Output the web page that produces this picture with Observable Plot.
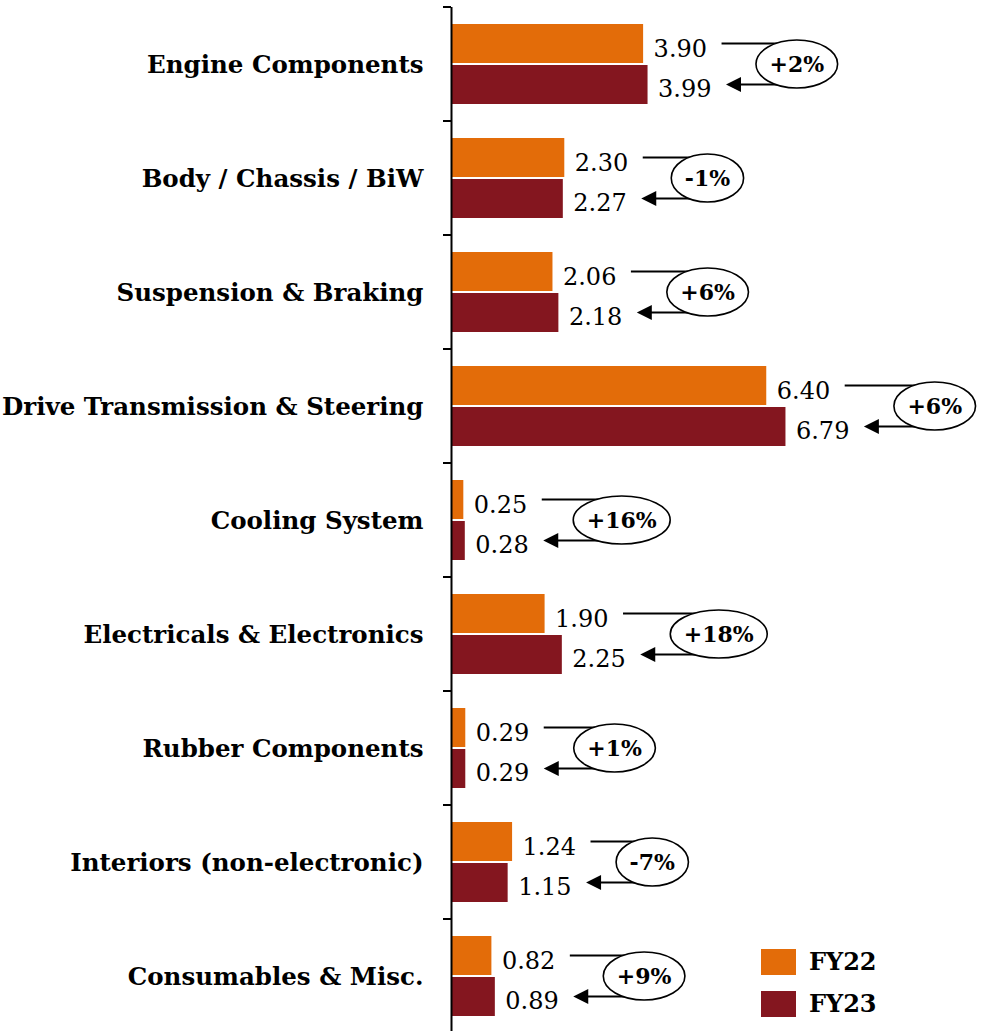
<!DOCTYPE html>
<html>
<head>
<meta charset="utf-8">
<script src="https://cdn.jsdelivr.net/npm/d3@7"></script>
<script src="https://cdn.jsdelivr.net/npm/@observablehq/plot@0.6"></script>
<style>
  html, body { margin: 0; padding: 0; background: #fff; overflow: hidden; }
  #wrap { position: relative; width: 982px; height: 1031px; }
  #wrap svg { display: block; }
  .legend { position: absolute; left: 761px; font-family: 'DejaVu Serif', serif; font-weight: bold; font-size: 24px; color: #000; }
  .legend .item { position: absolute; left: 0; display: flex; align-items: center; white-space: nowrap; }
  .legend .sw { width: 35px; height: 26px; margin-right: 13px; }
</style>
</head>
<body>
<div id="wrap"></div>
<script>
// ---- data ----
const categories = [
  "Engine Components",
  "Body / Chassis / BiW",
  "Suspension & Braking",
  "Drive Transmission & Steering",
  "Cooling System",
  "Electricals & Electronics",
  "Rubber Components",
  "Interiors (non-electronic)",
  "Consumables & Misc."
];
const fy22 = [3.90, 2.30, 2.06, 6.40, 0.25, 1.90, 0.29, 1.24, 0.82];
const fy23 = [3.99, 2.27, 2.18, 6.79, 0.28, 2.25, 0.29, 1.15, 0.89];
const growth = ["+2%", "-1%", "+6%", "+6%", "+16%", "+18%", "+1%", "-7%", "+9%"];
const seriesNames = ["FY22", "FY23"];
const seriesColors = ["#E36C09", "#84161F"];

const rows = categories.map((c, i) => ({category: c, fy22: fy22[i], fy23: fy23[i], growth: growth[i]}));

const FONT = "'DejaVu Serif', serif";
const valueSize = 24, growthSize = 22;
const canvas = document.createElement("canvas").getContext("2d");
function measure(text, size, weight) {
  canvas.font = `${weight || "normal"} ${size}px 'DejaVu Serif'`;
  return canvas.measureText(text).width;
}

const labelDx = 10;

function bandwidthOf(scale) {
  return scale && typeof scale.bandwidth === "function" ? scale.bandwidth() : 0;
}

function annotations(index, scales, values) {
  const g = d3.create("svg:g").attr("aria-label", "growth annotations");
  const bw = bandwidthOf(scales.y);
  for (const i of index) {
    const d = rows[i];
    const yc = values.y[i] + bw / 2;
    const y22 = yc - 20.5, y23 = yc + 20.5;
    const x22 = scales.x(d.fy22), x23 = scales.x(d.fy23);
    const lineStart = x22 + labelDx + measure(d.fy22.toFixed(2), valueSize) + 15;
    const tip = x23 + labelDx + measure(d.fy23.toFixed(2), valueSize) + 15;
    const tw = measure(d.growth, growthSize, "bold");
    const rx = tw / 2 + 13.5, ry = 24;
    const cx = tip + 30 + rx;
    g.append("line").attr("x1", lineStart).attr("x2", cx).attr("y1", y22).attr("y2", y22)
      .attr("stroke", "#000").attr("stroke-width", 2);
    g.append("line").attr("x1", tip + 12).attr("x2", cx).attr("y1", y23).attr("y2", y23)
      .attr("stroke", "#000").attr("stroke-width", 2);
    g.append("path").attr("d", `M${tip},${y23}L${tip + 15},${y23 - 7.5}L${tip + 15},${y23 + 7.5}Z`)
      .attr("fill", "#000");
    g.append("ellipse").attr("cx", cx).attr("cy", yc).attr("rx", rx).attr("ry", ry)
      .attr("fill", "#fff").attr("stroke", "#000").attr("stroke-width", 1.6);
    g.append("text").attr("x", cx).attr("y", yc).attr("dy", "0.36em")
      .attr("text-anchor", "middle").attr("font-family", FONT).attr("font-weight", "bold")
      .attr("font-size", growthSize).attr("fill", "#000").text(d.growth);
  }
  return g.node();
}

function bandTicks(index, scales, values) {
  const g = d3.create("svg:g").attr("aria-label", "y ticks");
  const bw = bandwidthOf(scales.y);
  for (const i of index) {
    const x = values.x[i];
    for (const y of [values.y[i], values.y[i] + bw]) {
      g.append("line").attr("x1", x - 8).attr("x2", x).attr("y1", y).attr("y2", y)
        .attr("stroke", "#000").attr("stroke-width", 2);
    }
  }
  return g.node();
}

const xMax = 10.78;

const chart = Plot.plot({
  width: 982,
  height: 1031,
  marginLeft: 451,
  marginRight: 0,
  marginTop: 7,
  marginBottom: 0,
  style: {fontFamily: FONT, background: "#fff", color: "#000", overflow: "visible"},
  x: {domain: [0, xMax], axis: null},
  y: {domain: categories, range: [7, 1033], padding: 0, axis: null},
  marks: [
    Plot.barX(rows, {x: "fy22", y: "category", fill: seriesColors[0], insetTop: 17, insetBottom: 58}),
    Plot.barX(rows, {x: "fy23", y: "category", fill: seriesColors[1], insetTop: 58, insetBottom: 17}),
    Plot.ruleX([0], {stroke: "#000", strokeWidth: 2}),
    Plot.dot(categories, {x: () => 0, y: d => d, render: bandTicks}),
    Plot.text(categories, {y: d => d, frameAnchor: "left", textAnchor: "end", dx: -28, dy: 1,
      fontSize: 24.5, fontWeight: "bold", fill: "#000"}),
    Plot.text(rows, {x: "fy22", y: "category", text: d => d.fy22.toFixed(2), textAnchor: "start",
      dx: labelDx, dy: -15.5, fontSize: valueSize, fill: "#000"}),
    Plot.text(rows, {x: "fy23", y: "category", text: d => d.fy23.toFixed(2), textAnchor: "start",
      dx: labelDx, dy: 25, fontSize: valueSize, fill: "#000"}),
    Plot.dot(rows, {x: "fy22", y: "category", render: annotations})
  ]
});

const wrap = document.getElementById("wrap");
wrap.appendChild(chart);

const legend = document.createElement("div");
legend.className = "legend";
legend.style.top = "947px";
seriesNames.forEach((name, i) => {
  const item = document.createElement("div");
  item.className = "item";
  item.style.top = (i * 42) + "px";
  const sw = document.createElement("span");
  sw.className = "sw";
  sw.style.background = seriesColors[i];
  const t = document.createElement("span");
  t.textContent = name;
  item.appendChild(sw);
  item.appendChild(t);
  legend.appendChild(item);
});
wrap.appendChild(legend);
</script>
</body>
</html>
